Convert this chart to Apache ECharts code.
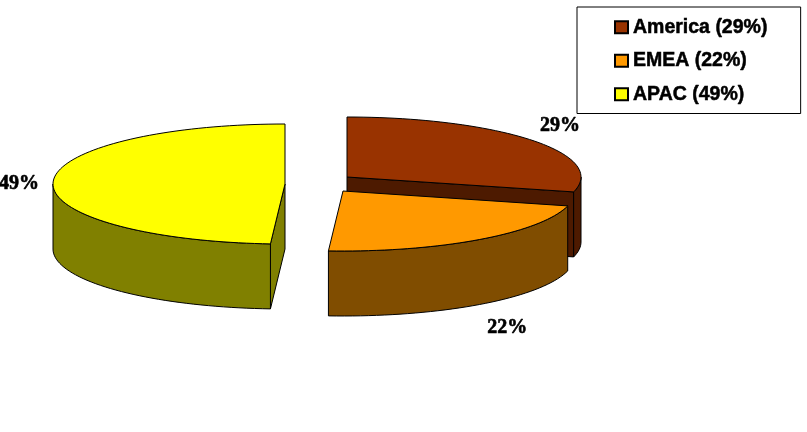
<!DOCTYPE html>
<html>
<head>
<meta charset="utf-8">
<style>html,body{margin:0;padding:0;background:#fff}#c{width:807px;height:432px}</style>
<script src="https://cdn.jsdelivr.net/npm/echarts@6/dist/echarts.min.js"></script>
</head>
<body>
<div id="c"></div>
<script>
const categories = ['America', 'EMEA', 'APAC'];
const seriesValues = [29, 22, 49];

const topColors = ['#993300', '#FF9900', '#FFFF00'];
const sideColors = ['#4D1A00', '#804D00', '#808000'];
// exploded slice apex in page pixels
const apexX = [347, 343, 285];
const apexY = [177, 191, 184];
const radiiX = [234, 232, 232];
const labelDX = [28, 28, -34];
const labelDY = [-14, 23, 2];
const labelDepth = [0, 1, 0];
const radiusY = 60, depth = 65;

const total = seriesValues.reduce((a, b) => a + b, 0);
const starts = [];
seriesValues.reduce((acc, v, i) => { starts[i] = acc; return acc + v; }, 0);

function makeRender(idx) {
  return function (params, api) {
    const value = api.value(0);
    const a0 = starts[idx] / total * 360;
    const a1 = a0 + value / total * 360;
    const cx = apexX[idx], cy = apexY[idx], radiusX = radiiX[idx];
    const pt = (deg, dz) => {
      const r = deg * Math.PI / 180;
      return [cx + radiusX * Math.sin(r), cy - radiusY * Math.cos(r) + (dz || 0)];
    };
    const arc = (from, to, dz) => {
      const out = [];
      const n = Math.max(2, Math.ceil((to - from) / 2));
      for (let i = 0; i <= n; i++) out.push(pt(from + (to - from) * i / n, dz));
      return out;
    };
    const style = { fill: sideColors[idx], stroke: '#000', lineWidth: 1 };
    const children = [];
    const face = (deg) => children.push({
      type: 'polygon',
      shape: { points: [[cx, cy], pt(deg), pt(deg, depth), [cx, cy + depth]] },
      style: style
    });
    if (Math.sin(a0 * Math.PI / 180) < -1e-6) face(a0);
    if (Math.sin(a1 * Math.PI / 180) > 1e-6) face(a1);
    const f0 = Math.max(a0, 90), f1 = Math.min(a1, 270);
    if (f1 > f0) {
      children.push({
        type: 'polygon',
        shape: { points: arc(f0, f1, 0).concat(arc(f0, f1, depth).reverse()) },
        style: style
      });
    }
    children.push({
      type: 'polygon',
      shape: { points: [[cx, cy]].concat(arc(a0, a1, 0)) },
      style: { fill: topColors[idx], stroke: '#000', lineWidth: 1 }
    });
    const mid = pt((a0 + a1) / 2, labelDepth[idx] * depth);
    children.push({
      type: 'text',
      z2: 10,
      style: {
        x: mid[0] + labelDX[idx], y: mid[1] + labelDY[idx],
        text: value + '%',
        font: 'bold 20px "Liberation Serif"',
        fill: '#000', stroke: '#000', lineWidth: 0.6,
        align: 'center', verticalAlign: 'middle'
      }
    });
    return { type: 'group', children: children };
  };
}

const order = [2, 0, 1];
const chart = echarts.init(document.getElementById('c'), null, { renderer: 'canvas' });
chart.setOption({
  animation: false,
  backgroundColor: '#fff',
  legend: {
    left: 577, top: 7,
    orient: 'vertical',
    align: 'left',
    data: categories.map((c, i) => c + ' (' + seriesValues[i] + '%)'),
    icon: 'rect',
    itemWidth: 13, itemHeight: 12, itemGap: 13,
    padding: [10, 33, 9, 37],
    borderColor: '#000', borderWidth: 1, backgroundColor: '#fff',
    selectedMode: false,
    textStyle: {
      fontFamily: 'Liberation Sans', fontWeight: 'bold', fontSize: 19.5, color: '#000',
      textBorderColor: '#000', textBorderWidth: 0.5
    }
  },
  series: order.map(i => ({
    type: 'custom',
    name: categories[i] + ' (' + seriesValues[i] + '%)',
    coordinateSystem: 'none',
    silent: true,
    itemStyle: { color: topColors[i], borderColor: '#000', borderWidth: 1 },
    renderItem: makeRender(i),
    data: [[seriesValues[i]]]
  }))
});
</script>
</body>
</html>
